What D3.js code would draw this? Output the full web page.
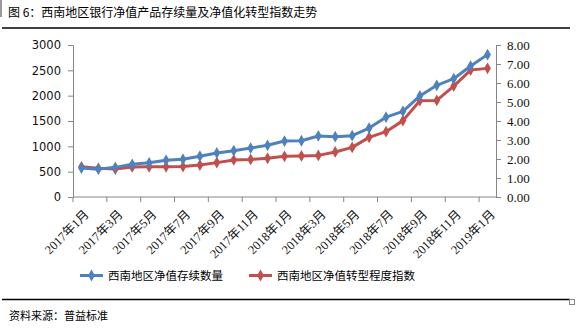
<!DOCTYPE html>
<html><head><meta charset="utf-8">
<script src="https://cdn.jsdelivr.net/npm/d3@7/dist/d3.min.js"></script>
<style>body{margin:0;background:#fff}svg{display:block}</style>
</head><body>
<script>
const months = ["2017年1月","2017年2月","2017年3月","2017年4月","2017年5月","2017年6月","2017年7月","2017年8月","2017年9月","2017年10月","2017年11月","2017年12月","2018年1月","2018年2月","2018年3月","2018年4月","2018年5月","2018年6月","2018年7月","2018年8月","2018年9月","2018年10月","2018年11月","2018年12月","2019年1月"];
const stockCount = [570,550,585,645,675,725,745,805,870,915,965,1020,1105,1110,1205,1190,1210,1360,1575,1690,1995,2205,2335,2585,2810];
const transIndex = [1.59,1.51,1.47,1.58,1.59,1.59,1.60,1.68,1.81,1.95,1.98,2.04,2.14,2.16,2.19,2.37,2.61,3.14,3.44,4.02,5.07,5.08,5.84,6.68,6.77];
const leftTicks = [0,500,1000,1500,2000,2500,3000];
const rightTicks = [0,1,2,3,4,5,6,7,8];
const seriesNames = ["西南地区净值存续数量","西南地区净值转型程度指数"];
const colors = ["#4F81BD","#C0504D"];

const W=587,H=332;
const svg=d3.select("body").append("svg").attr("width",W).attr("height",H);
const cjk="'Noto Sans CJK SC','Noto Sans CJK JP',sans-serif";

// title
svg.append("rect").attr("x",0).attr("y",0).attr("width",2).attr("height",17).attr("fill","#999");
svg.append("text").attr("x",8).attr("y",17).attr("font-family",cjk).attr("font-size",12).attr("fill","#000")
  .text("图 6：西南地区银行净值产品存续量及净值化转型指数走势");
svg.append("line").attr("x1",2).attr("x2",570).attr("y1",28).attr("y2",28).attr("stroke","#000").attr("stroke-width",1.5);

const L=73,R=496,T=45,B=197;
const x=d3.scaleBand().domain(months).range([L,R]).padding(0);
const yL=d3.scaleLinear().domain([0,3000]).range([B,T]);
const yR=d3.scaleLinear().domain([0,8]).range([B,T]);
const axisCol="#868686";

// left axis
const gl=svg.append("g").attr("transform",`translate(${L},0)`).call(d3.axisLeft(yL).tickValues(leftTicks).tickSize(5).tickPadding(7).tickFormat(d3.format("d")));
gl.selectAll("path,line").attr("stroke",axisCol);
gl.selectAll("text").attr("font-family","'DejaVu Sans',sans-serif").attr("font-size",11.5).attr("fill","#111");

// right axis
const gr=svg.append("g").attr("transform",`translate(${R},0)`).call(d3.axisRight(yR).tickValues(rightTicks).tickSize(5).tickPadding(6).tickFormat(d3.format(".2f")));
gr.selectAll("path,line").attr("stroke",axisCol);
gr.selectAll("text").attr("font-family","'Liberation Serif',serif").attr("font-size",13).attr("fill","#111");

// bottom axis
svg.append("line").attr("x1",L).attr("x2",R).attr("y1",B).attr("y2",B).attr("stroke",axisCol);
const tickIdx=d3.range(0,months.length,2);
svg.selectAll(".xt").data(tickIdx).enter().append("line")
  .attr("x1",i=>x(months[i])).attr("x2",i=>x(months[i])).attr("y1",B).attr("y2",B+5).attr("stroke",axisCol);
svg.selectAll(".xl").data(tickIdx).enter().append("text")
  .attr("transform",i=>`translate(${x(months[i])+x.bandwidth()/2+2},${B+12}) rotate(-45)`)
  .attr("text-anchor","end").attr("dy","0.7em")
  .attr("font-family","'Liberation Serif','Noto Sans CJK SC',serif").attr("font-size",12.5).attr("fill","#111")
  .text(i=>months[i]);

const cx=(d,i)=>x(months[i])+x.bandwidth()/2;
const diamond=d3.symbol().type(d3.symbolDiamond).size(40);
function drawSeries(vals,scale,col){
  svg.append("path").datum(vals).attr("fill","none").attr("stroke",col).attr("stroke-width",3).attr("stroke-linejoin","round")
    .attr("d",d3.line().x(cx).y(d=>scale(d)));
  svg.append("g").selectAll("path").data(vals).enter().append("path")
    .attr("d",diamond).attr("fill",col).attr("transform",(d,i)=>`translate(${cx(d,i)},${scale(d)})`);
}
drawSeries(transIndex,yR,colors[1]);
drawSeries(stockCount,yL,colors[0]);

// legend
const leg=[{x:80,name:seriesNames[0],c:colors[0]},{x:249,name:seriesNames[1],c:colors[1]}];
leg.forEach(l=>{
  svg.append("line").attr("x1",l.x).attr("x2",l.x+23).attr("y1",275.5).attr("y2",275.5).attr("stroke",l.c).attr("stroke-width",3);
  svg.append("path").attr("d",diamond).attr("fill",l.c).attr("transform",`translate(${l.x+11.5},275.5)`);
  svg.append("text").attr("x",l.x+28).attr("y",280).attr("font-family",cjk).attr("font-size",11.5).attr("fill","#000").text(l.name);
});

// footer
svg.append("line").attr("x1",2).attr("x2",570).attr("y1",299.5).attr("y2",299.5).attr("stroke","#000").attr("stroke-width",1.5);
svg.append("rect").attr("x",569.5).attr("y",299.5).attr("width",5).attr("height",5).attr("fill","#fff").attr("stroke","#888");
svg.append("text").attr("x",9).attr("y",320).attr("font-family",cjk).attr("font-size",11).attr("fill","#000").text("资料来源：普益标准");
</script>
</body></html>
